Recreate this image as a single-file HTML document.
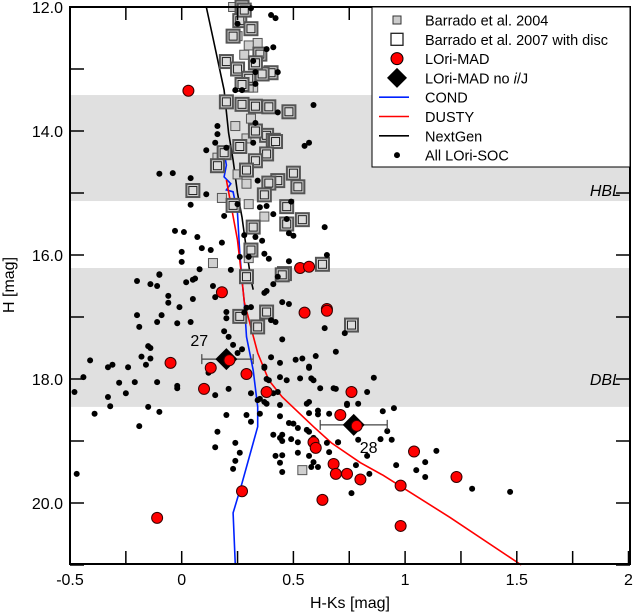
<!DOCTYPE html>
<html><head><meta charset="utf-8"><style>
html,body{margin:0;padding:0;background:#fff;}
svg{display:block;font-family:"Liberation Sans",sans-serif;}
</style></head><body>
<svg id="chart" width="634" height="613" viewBox="0 0 634 613">
<g id="bands"></g>
<g id="curves"></g>
<g id="marks"></g>
<g id="axes"></g>
<g id="legend"></g>
</svg>
<script>
const xTicks=[-0.5,0,0.5,1,1.5,2];
const xTickLabels=["-0.5","0","0.5","1","1.5","2"];
const yTicks=[14,16,18,20];
const yTickLabels=["14.0","16.0","18.0","20.0"];
const yStart=["12.0"];
const bandHBL=[13.42,15.13];
const bandDBL=[16.21,18.45];
const condX=[0.19,0.20,0.19,0.22,0.20,0.23,0.25,0.26,0.27,0.28,0.29,0.32,0.34,0.34,0.32,0.27,0.23,0.24];
const condH=[14.34,14.55,14.74,14.85,14.95,14.98,15.33,15.97,16.40,16.76,17.32,17.86,18.45,18.77,19.03,19.68,20.16,21.0];
const dustyX=[0.20,0.25,0.27,0.28,0.34,0.39,0.45,0.59,0.67,0.80,0.90,1.20,1.52];
const dustyH=[14.79,15.76,16.40,16.76,17.58,18.02,18.29,18.77,19.03,19.35,19.55,20.23,21.0];
const nextgenX=[0.11,0.14,0.19,0.21,0.23,0.25,0.27,0.29,0.31,0.32];
const nextgenH=[12.0,12.5,13.34,14.03,14.47,15.0,15.39,15.92,16.4,16.56];
const socX=[-0.20,-0.14,-0.11,-0.10,-0.06,-0.06,-0.01,0.02,0.05,0.06,0.05,-0.02,0.04,0.14,0.15,-0.09,-0.11,-0.20,-0.19,-0.15,-0.14,-0.18,-0.14,-0.16,-0.24,-0.31,-0.33,-0.41,-0.44,-0.48,-0.28,-0.21,-0.11,-0.02,-0.02,-0.25,-0.33,-0.32,-0.39,-0.15,-0.10,-0.19,-0.47,0.12,0.15,0.21,0.20,0.16,0.15,0.24,0.26,0.24,0.23,0.29,0.31,0.35,0.35,0.34,0.31,0.20,0.20,0.19,0.21,0.23,0.25,0.27,0.29,0.31,0.28,0.37,0.38,0.41,0.40,0.42,0.45,0.45,0.48,0.40,0.37,0.37,0.38,0.39,0.41,0.43,0.37,0.38,0.44,0.44,0.47,0.44,0.44,0.41,0.44,0.45,0.48,0.50,0.49,0.45,0.42,0.45,0.44,0.45,0.51,0.54,0.57,0.57,0.60,0.53,0.58,0.59,0.62,0.57,0.56,0.57,0.61,0.61,0.52,0.56,0.57,0.52,0.59,0.52,0.57,0.59,0.58,0.61,0.64,0.69,0.73,0.68,0.69,0.74,0.66,0.65,0.70,0.66,0.76,0.86,0.83,0.79,0.74,0.90,0.95,0.92,0.94,0.89,0.83,0.78,0.79,0.70,0.96,1.05,1.09,1.09,1.14,1.30,1.47,0.84,
0.31,0.40,0.42,0.25,0.38,0.41,0.32,0.33,0.43,0.33,0.24,0.27,0.59,0.43,0.16,0.16,0.33,0.15,0.11,0.20,0.55,0.57,0.32,-0.10,-0.04,0.04,0.11,0.04,0.34,0.35,0.38,0.49,0.41,0.19,0.25,0.47,0.64,0.48,0.50,-0.03,0.01,0.07,0.18,0.28,0.33,0.36,0.09,0.13,0.00,0.00,0.08,0.22,0.26,0.30,0.37,0.39,0.48,0.65,-0.10,0.43];
const socH=[16.42,16.47,16.50,16.32,16.66,16.77,16.84,16.44,16.40,16.38,16.71,17.10,17.08,16.50,16.68,16.97,17.08,16.97,17.16,17.47,17.50,17.64,17.67,17.77,17.81,17.77,17.81,17.70,17.97,18.21,18.06,18.05,18.05,18.11,18.15,18.23,18.29,18.44,18.56,18.45,18.53,18.76,19.53,17.90,18.26,18.16,18.58,18.85,19.10,19.03,19.19,19.32,19.45,18.58,18.69,18.56,18.32,18.34,18.23,16.92,17.02,17.23,17.32,17.45,17.58,17.52,16.85,16.84,16.93,16.61,16.58,16.47,17.05,17.08,17.36,16.76,16.79,17.65,17.82,17.80,18.00,18.02,18.23,18.21,18.37,18.40,17.74,17.97,18.02,18.42,18.60,18.90,18.95,18.90,18.71,18.72,18.97,19.00,19.24,19.23,19.35,19.50,17.69,17.67,17.80,17.82,17.63,17.99,17.99,18.02,18.15,18.37,18.40,18.55,18.51,18.57,18.79,18.82,18.85,19.02,18.95,19.19,19.24,19.34,19.42,19.42,17.18,17.56,17.26,18.15,18.16,18.42,18.56,19.03,19.02,19.18,19.84,17.98,18.21,18.40,18.40,18.52,18.47,18.84,18.98,18.97,19.24,19.39,18.98,19.02,19.39,19.47,19.34,19.58,19.16,19.77,19.82,19.53,
12.02,12.13,12.18,12.27,12.68,12.65,12.87,13.05,13.05,13.24,13.34,13.34,13.58,13.70,13.92,14.05,13.87,14.19,14.31,14.27,14.24,14.19,14.19,14.69,14.68,14.76,15.02,15.19,14.80,15.23,15.21,15.14,15.34,15.37,15.18,15.42,15.55,15.65,15.69,15.61,15.63,15.71,15.80,15.68,15.71,15.77,15.89,15.92,15.95,16.11,16.23,16.24,16.03,16.03,15.98,16.06,16.10,16.00,16.31,16.35];
const madX=[0.03,0.53,0.57,0.18,-0.05,0.13,0.10,0.29,0.38,0.55,0.65,0.65,0.76,0.71,0.59,0.60,0.68,0.69,0.74,0.27,0.63,-0.11,1.04,1.23,0.98,0.98,0.80];
const madH=[13.35,16.21,16.19,16.60,17.74,17.82,18.16,17.92,18.21,16.93,16.87,16.90,18.21,18.58,19.02,19.11,19.37,19.53,19.53,19.81,19.95,20.24,19.17,19.58,19.72,20.37,19.62];
const noIJX=[0.20,0.77];
const noIJH=[17.68,18.74];
const noIJErrLo=[0.09,0.62];
const noIJErrHi=[0.32,0.92];
const noIJLabels=["27","28"];
const b04X=[0.23,0.27,0.34,0.25,0.28,0.30,0.34,0.32,0.24,0.29,0.16,0.28,0.29,0.18,0.30,0.37,0.54,0.14,0.30,0.25,0.31,0.30];
const b04H=[12.0,12.11,12.58,12.47,12.77,12.62,13.06,13.3,13.92,14.12,14.43,14.6,14.85,15.08,15.18,15.38,19.47,16.13,16.05,14.7,13.8,13.3];
const b07X=[0.27,0.26,0.28,0.23,0.35,0.20,0.25,0.30,0.40,0.36,0.20,0.27,0.33,0.39,0.48,0.38,0.33,0.41,0.42,0.19,0.38,0.33,0.16,0.50,0.43,0.52,0.39,0.05,0.37,0.23,0.47,0.54,0.47,0.32,0.31,0.63,0.46,0.29,0.45,0.38,0.26,0.34,0.76,0.27,0.29,0.26,0.31,0.33];
const b07H=[12.0,12.22,12.05,12.47,12.76,12.88,13.0,13.15,13.06,13.08,13.53,13.57,13.60,13.61,13.69,14.07,14.0,14.15,14.17,14.35,14.37,14.48,14.56,14.68,14.80,14.90,14.84,14.96,15.03,15.20,15.22,15.43,15.50,15.55,15.92,16.15,16.3,16.35,16.32,16.92,16.99,17.16,17.13,13.25,14.63,14.25,12.35,12.9];

const X0=70,X1=630,Y0=7,Y1=564;
function sx(v){return 181.7+v*223.4;}
function sy(h){return 7+(h-12)*62;}
const NS='http://www.w3.org/2000/svg';
function mk(tag,parent,attrs){const e=document.createElementNS(NS,tag);for(const k in attrs)e.setAttribute(k,attrs[k]);parent.appendChild(e);return e;}
const bands=document.getElementById('bands'),curves=document.getElementById('curves'),marks=document.getElementById('marks'),axes=document.getElementById('axes'),legend=document.getElementById('legend');

[[bandHBL,'hbl-band','HBL'],[bandDBL,'dbl-band','DBL']].forEach(([b,n,l])=>{
  const r=mk('rect',bands,{x:X0,y:sy(b[0]),width:X1-X0,height:sy(b[1])-sy(b[0]),fill:'#e0e0e0'});
  
  
});
const t1=mk('text',bands,{x:621,y:196,'font-size':16,'font-style':'italic','text-anchor':'end'});t1.textContent='HBL';


const t2=mk('text',bands,{x:621,y:385,'font-size':16,'font-style':'italic','text-anchor':'end'});t2.textContent='DBL';



function line(xs,hs,col,name){
  const p=xs.map((x,i)=>sx(x).toFixed(1)+','+sy(hs[i]).toFixed(1)).join(' ');
  const e=mk('polyline',curves,{points:p,fill:'none',stroke:col,'stroke-width':1.6});
  
  
}
line(nextgenX,nextgenH,'#000','nextgen-curve');

// squares
b04X.forEach((x,i)=>{
  const e=mk('rect',marks,{x:sx(x)-4.5,y:sy(b04H[i])-4.5,width:9,height:9,fill:'#d0d0d0',stroke:'#555','stroke-width':1});
  
  
});
b07X.forEach((x,i)=>{
  const g=mk('g',marks,{});
  
  
  mk('rect',g,{x:sx(x)-6.5,y:sy(b07H[i])-6.5,width:13,height:13,fill:'#d0d0d0',stroke:'#555','stroke-width':2});
  mk('rect',g,{x:sx(x)-4,y:sy(b07H[i])-4,width:8,height:8,fill:'#ddd',stroke:'#222','stroke-width':1});
});
socX.forEach((x,i)=>{
  const e=mk('circle',marks,{cx:sx(x),cy:sy(socH[i]),r:3,fill:'#000'});
  
  
});
line(condX,condH,'#0022ff','cond-curve');
line(dustyX,dustyH,'#ff0000','dusty-curve');
noIJX.forEach((x,i)=>{
  const g=mk('g',marks,{});
  
  
  const y=sy(noIJH[i]),a=sx(noIJErrLo[i]),b=sx(noIJErrHi[i]);
  mk('path',g,{d:`M${a},${y}H${b}M${a},${y-5}V${y+5}M${b},${y-5}V${y+5}`,stroke:'#444','stroke-width':1.2,fill:'none'});
  const cx=sx(x);
  mk('path',g,{d:`M${cx},${y-11}L${cx+11},${y}L${cx},${y+11}L${cx-11},${y}Z`,fill:'#000'});
  const t=mk('text',g,{x:i==0?cx-36:cx+6,y:i==0?y-13:y+28,'font-size':16});t.textContent=noIJLabels[i];
});
madX.forEach((x,i)=>{
  const e=mk('circle',marks,{cx:sx(x),cy:sy(madH[i]),r:5.5,fill:'#ff0000',stroke:'#300','stroke-width':1});
  
  
});
noIJX.forEach((x,i)=>{
  mk('circle',marks,{cx:sx(x)+3,cy:sy(noIJH[i])+1,r:5.5,fill:'#ff0000',stroke:'#300','stroke-width':1});
});

// axes
const frame=mk('rect',axes,{x:X0,y:Y0,width:X1-X0,height:Y1-Y0,fill:'none',stroke:'#000','stroke-width':2});


for(let v=-0.5;v<=2.001;v+=0.25){
  const x=sx(v);
  mk('line',axes,{x1:x,x2:x,y1:Y1,y2:Y1-13,stroke:'#000','stroke-width':1.5});
  mk('line',axes,{x1:x,x2:x,y1:Y0,y2:Y0+13,stroke:'#000','stroke-width':1.5});
}
xTicks.forEach((v,i)=>{
  const t=mk('text',axes,{x:sx(v),y:585,'font-size':16,'text-anchor':'middle'});t.textContent=xTickLabels[i];
  
  
});
for(let h=12;h<=21;h+=1){
  const y=sy(h);
  mk('line',axes,{x1:X0,x2:X0+14,y1:y,y2:y,stroke:'#000','stroke-width':1.5});
  mk('line',axes,{x1:X1-14,x2:X1,y1:y,y2:y,stroke:'#000','stroke-width':1.5});
}
const yl=[12].concat(yTicks),yll=yStart.concat(yTickLabels);
yl.forEach((h,i)=>{
  const t=mk('text',axes,{x:63,y:sy(h)+6,'font-size':16,'text-anchor':'end'});t.textContent=yll[i];
  
  
});
const xt=mk('text',axes,{x:350,y:608,'font-size':16,'text-anchor':'middle'});xt.textContent='H-Ks [mag]';


const yt=mk('text',axes,{x:14,y:285,'font-size':16,'text-anchor':'middle',transform:'rotate(-90 14 285)'});yt.textContent='H [mag]';



// legend
const lb=mk('rect',legend,{x:372,y:7,width:258,height:160,fill:'#fff',stroke:'#000','stroke-width':1});


const labels=['Barrado et al. 2004','Barrado et al. 2007 with disc','LOri-MAD','LOri-MAD no i/J','COND','DUSTY','NextGen','All LOri-SOC'];
labels.forEach((s,i)=>{
  const y=20+i*19.3,g=mk('g',legend,{});
  
  
  const cx=397;
  if(i==0)mk('rect',g,{x:cx-4,y:y-4,width:8,height:8,fill:'#ccc',stroke:'#333'});
  if(i==1)mk('rect',g,{x:cx-6,y:y-6,width:12,height:12,fill:'#fff',stroke:'#222','stroke-width':1.3});
  if(i==2)mk('circle',g,{cx:cx,cy:y,r:6,fill:'#f00',stroke:'#000'});
  if(i==3)mk('path',g,{d:`M${cx},${y-10}L${cx+10},${y}L${cx},${y+10}L${cx-10},${y}Z`,fill:'#000'});
  if(i>=4&&i<=6)mk('line',g,{x1:379,x2:409,y1:y,y2:y,stroke:['#0022ff','#f00','#000'][i-4],'stroke-width':1.6});
  if(i==7)mk('circle',g,{cx:cx,cy:y,r:3,fill:'#000'});
  const t=mk('text',g,{x:425,y:y+5.5,'font-size':14.5});
  if(i==3){t.innerHTML='LOri-MAD no <tspan font-style="italic">i</tspan>/J';}else t.textContent=s;
});
</script>
</body></html>
